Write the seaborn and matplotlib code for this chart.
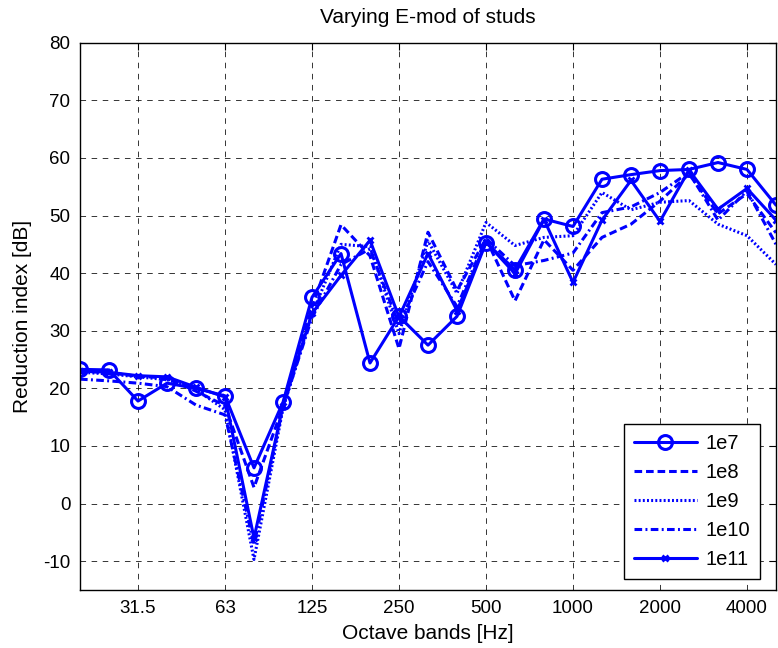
import numpy as np
import pandas as pd
import matplotlib
matplotlib.use("Agg")
import matplotlib.pyplot as plt
import seaborn as sns

# Third-octave band centre frequencies [Hz]
bands = ["20", "25", "31.5", "40", "50", "63", "80", "100", "125", "160", "200",
         "250", "315", "400", "500", "630", "800", "1000", "1250", "1600", "2000",
         "2500", "3150", "4000", "5000"]
tick_labels = ["31.5", "63", "125", "250", "500", "1000", "2000", "4000"]

# Reduction index [dB] for each stud E-modulus
r_1e7 = [23.3, 23.2, 17.8, 20.9, 20.0, 18.7, 6.2, 17.6, 35.8, 43.4, 24.4, 32.5, 27.5,
         32.5, 45.3, 40.6, 49.4, 48.1, 56.3, 57.1, 57.8, 58.0, 59.2, 58.0, 51.8]
r_1e8 = [23.0, 22.7, 22.1, 21.8, 19.5, 17.0, 2.8, 16.8, 34.1, 48.4, 43.0, 26.9, 47.1,
         37.0, 46.0, 35.2, 45.8, 40.5, 46.2, 48.5, 52.5, 57.2, 50.3, 53.8, 47.0]
r_1e9 = [22.8, 22.5, 22.0, 21.5, 19.8, 16.3, -9.7, 16.5, 32.9, 45.0, 44.6, 29.5, 45.6,
         36.5, 48.8, 44.8, 46.2, 46.5, 54.0, 51.0, 52.3, 52.6, 48.5, 46.5, 41.5]
r_1e10 = [21.6, 21.3, 20.9, 20.3, 17.1, 15.4, -7.2, 16.8, 32.3, 41.5, 44.2, 31.0, 42.0,
          34.2, 46.0, 41.3, 42.2, 43.5, 50.5, 51.5, 54.0, 57.5, 49.2, 54.3, 45.0]
r_1e11 = [23.0, 22.8, 22.2, 22.0, 20.2, 18.5, -6.0, 17.0, 33.0, 39.6, 45.7, 32.4, 43.4,
          33.5, 45.4, 39.9, 49.3, 38.4, 49.2, 56.1, 49.0, 57.9, 51.1, 54.7, 49.2]

series_names = ["1e7", "1e8", "1e9", "1e10", "1e11"]
series_values = [r_1e7, r_1e8, r_1e9, r_1e10, r_1e11]

pos = np.arange(len(bands))
df = pd.concat(
    [pd.DataFrame({"band": pos, "R": vals, "E": name})
     for name, vals in zip(series_names, series_values)],
    ignore_index=True,
)

sns.set_style("white")
plt.rcParams["font.family"] = ["Liberation Sans", "DejaVu Sans"]
plt.rcParams["lines.scale_dashes"] = False
plt.rcParams["axes.unicode_minus"] = False
plt.rcParams["text.color"] = "black"
plt.rcParams["axes.labelcolor"] = "black"

fs_tick = 13.5
fs_lab = 15
fs_leg = 14.5
fig = plt.figure(figsize=(7.78, 6.48), dpi=100)
ax = fig.add_axes([80 / 778, 1 - 590 / 648, 696 / 778, (590 - 42.7) / 648])

# Line style / marker per series, applied to the drawn Line2D objects
styles = {
    "1e7": dict(linestyle="-", marker="o", markersize=10, markerfacecolor="none",
                markeredgecolor="#0000ff", markeredgewidth=2.2),
    "1e8": dict(linestyle=(0, (5.5, 2.8)), marker=""),
    "1e9": dict(linestyle=(0, (1.4, 1.6)), marker=""),
    "1e10": dict(linestyle=(0, (5.5, 2.4, 1.4, 2.4)), marker=""),
    "1e11": dict(linestyle="-", marker="x", markersize=5, markeredgecolor="#0000ff",
                 markeredgewidth=2.0),
}

for name in series_names:
    sub = df[df["E"] == name]
    sns.lineplot(data=sub, x="band", y="R", ax=ax, color="#0000ff", linewidth=2.2,
                 label=name)
    ax.lines[-1].set(**styles[name])

ax.set_xlim(0, 24)
ax.set_ylim(-15, 80)
ax.set_xticks([bands.index(t) for t in tick_labels])
ax.set_xticklabels(tick_labels)
ax.set_yticks(np.arange(-10, 81, 10))
ax.tick_params(axis="both", direction="in", length=5, width=0.8, labelsize=fs_tick,
               top=True, right=True, pad=7, colors="black")
ax.grid(True, color="black", linestyle=(0, (4, 4)), linewidth=0.65, alpha=0.85)
for sp in ax.spines.values():
    sp.set_color("black")
    sp.set_linewidth(1.0)

ax.set_xlabel("Octave bands [Hz]", fontsize=fs_lab, labelpad=5)
ax.set_ylabel("Reduction index [dB]", fontsize=fs_lab, labelpad=8)
ax.set_title("Varying E-mod of studs", fontsize=fs_lab, pad=14)

leg = ax.legend(loc="lower right", bbox_to_anchor=(0.9775, 0.0201), borderaxespad=0,
                fontsize=fs_leg, handlelength=3.1, labelspacing=0.5, fancybox=False,
                framealpha=1, edgecolor="black", borderpad=0.5, handletextpad=0.45,
                numpoints=1)
leg.get_frame().set_linewidth(1.0)

fig.savefig("out.png", dpi=100)
